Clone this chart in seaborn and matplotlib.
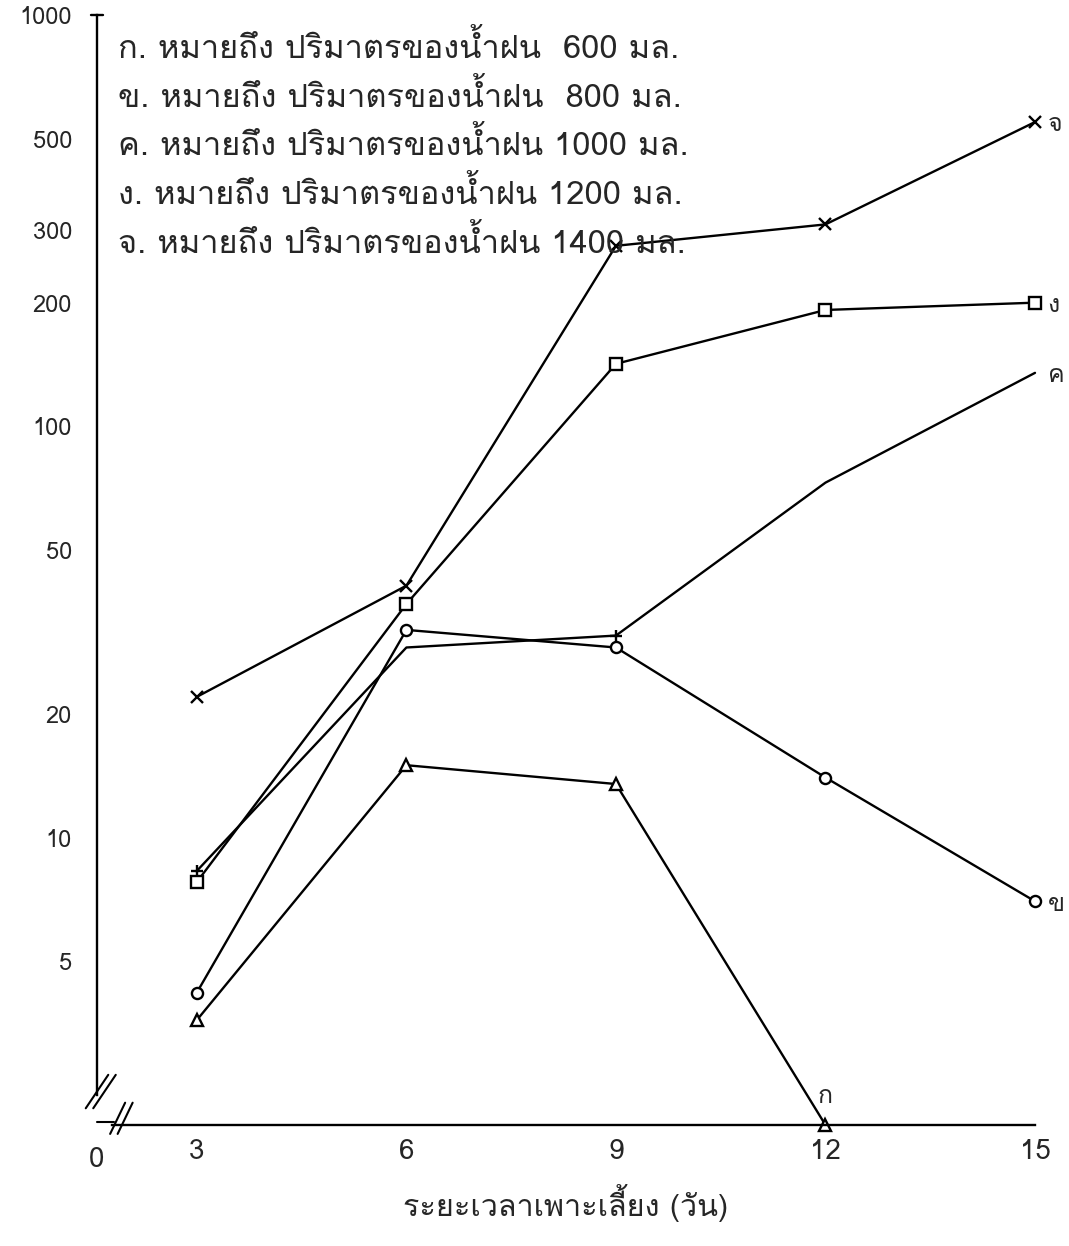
import matplotlib
matplotlib.use("Agg")
import matplotlib.pyplot as plt
from matplotlib import font_manager
from matplotlib.ft2font import FT2Font
import seaborn as sns
import pandas as pd

# ---------------- data ----------------
days = [3, 6, 9, 12, 15]
series_keys = ["ก", "ข", "ค", "ง", "จ"]
rain_ml = [600, 800, 1000, 1200, 1400]
vals_ko = [3.6, 15, 13.5, 2.0]          # 600 ml (day 3-12; day 12 on the axis)
vals_kho = [4.2, 32, 29, 14, 7]          # 800 ml
vals_kho_khwai = [8.3, 29, 31, 73, 135]  # 1000 ml
vals_ngo = [7.8, 37, 142, 192, 200]      # 1200 ml
vals_cho = [22, 41, 275, 310, 550]       # 1400 ml
ytick_vals = [5, 10, 20, 50, 100, 200, 300, 500, 1000]
ytick_labels = ["5", "10", "20", "50", "100", "200", "300", "500", "1000"]
xtick_vals = [3, 6, 9, 12, 15]
xlabel = "ระยะเวลาเพาะเลี้ยง (วัน)"
legend_lines = [
    "ก. หมายถึง ปริมาตรของน้ำฝน  600 มล.",
    "ข. หมายถึง ปริมาตรของน้ำฝน  800 มล.",
    "ค. หมายถึง ปริมาตรของน้ำฝน 1000 มล.",
    "ง. หมายถึง ปริมาตรของน้ำฝน 1200 มล.",
    "จ. หมายถึง ปริมาตรของน้ำฝน 1400 มล.",
]

# ---------------- find a Thai-capable font ----------------
thai_fams = []
for f in font_manager.fontManager.ttflist:
    try:
        cm = FT2Font(f.fname).get_charmap()
        if 0x0E01 in cm and f.name not in thai_fams:
            thai_fams.append(f.name)
    except Exception:
        pass
pref = [n for n in ["Loma", "Anuphan"] if n in thai_fams] or thai_fams[:1]

sns.set_theme(style="white")
plt.rcParams["font.family"] = pref[:1] + ["DejaVu Sans"]

fig = plt.figure(figsize=(10.69, 12.46), dpi=100)
ax = fig.add_axes([97 / 1069, 1 - 1125 / 1246, (1035 - 97) / 1069, (1125 - 10) / 1246])
ax.set_yscale("log")

rows = []
all_vals = [vals_ko, vals_kho, vals_kho_khwai, vals_ngo, vals_cho]
for k, v in zip(series_keys, all_vals):
    for d, y in zip(days, v):
        rows.append({"day": d, "value": y, "series": k})
df = pd.DataFrame(rows)

markers = {"ก": "^", "ข": "o", "ค": "+", "ง": "s", "จ": "x"}
for k in series_keys:
    sub = df[df.series == k]
    kw = dict(markevery=[0, 2]) if k == "ค" else {}
    sns.lineplot(data=sub, x="day", y="value", ax=ax, color="black", lw=1.7,
                 marker=markers[k], markersize=8, markerfacecolor="white",
                 markeredgecolor="black", markeredgewidth=1.7, **kw)
for ln in ax.lines:
    ln.set_clip_on(False)

# end labels
for k, v in zip(series_keys, all_vals):
    if k == "ก":
        ax.annotate(k, (days[len(v) - 1], v[-1]), xytext=(0, 12), textcoords="offset points",
                    ha="center", va="bottom", fontsize=18)
    else:
        ax.annotate(k, (days[len(v) - 1], v[-1]), xytext=(9, -2), textcoords="offset points",
                    ha="left", va="center", fontsize=18)

ax.set_xlim(1.57, 15.0)
ax.set_ylim(2.0, 1030)
ax.set_yticks(ytick_vals)
ax.set_yticklabels(ytick_labels, fontsize=17)
ax.yaxis.set_minor_locator(matplotlib.ticker.FixedLocator([3, 4, 7, 15, 30, 70, 150, 400, 700]))
ax.yaxis.set_minor_formatter(matplotlib.ticker.NullFormatter())
ax.set_xticks(xtick_vals)
ax.set_xticklabels([str(x) for x in xtick_vals], fontsize=20)
ax.tick_params(axis="y", which="major", direction="inout", length=8, width=1.4, pad=14)
ax.tick_params(axis="y", which="minor", direction="inout", length=5, width=1.0)
ax.tick_params(axis="x", direction="in", length=6, width=1.4, pad=10)
ax.set_xlabel(xlabel, fontsize=22, labelpad=14)
ax.set_ylabel("")

for s in ["top", "right"]:
    ax.spines[s].set_visible(False)
for s in ["left", "bottom"]:
    ax.spines[s].set_linewidth(1.7)
    ax.spines[s].set_color("black")
ax.spines["left"].set_bounds(2.37, 1000)
ax.spines["bottom"].set_bounds(1.78, 15)

# axis break marks
tr = ax.transAxes
for dx in (0.0, 0.008):
    ax.plot([-0.012 + dx, 0.012 + dx], [0.015, 0.045], transform=tr, color="black", lw=1.5, clip_on=False)
for dx in (0.0, 0.008):
    ax.plot([0.014 + dx, 0.030 + dx], [-0.008, 0.020], transform=tr, color="black", lw=1.5, clip_on=False)
ax.plot([0, 0.018], [0.003, 0.003], transform=tr, color="black", lw=1.5, clip_on=False)
ax.text(0.0, -0.02, "0", transform=tr, ha="center", va="top", fontsize=20)
ax.plot([-0.006, 0.006], [1000, 1000], transform=ax.get_yaxis_transform(), color="black", lw=1.7, clip_on=False)

# legend text
for i, line in enumerate(legend_lines):
    ax.text(0.022, 0.966 - i * 0.0437, line, transform=tr, ha="left", va="center", fontsize=23.5)

fig.savefig("out.png", dpi=100, facecolor="white")
